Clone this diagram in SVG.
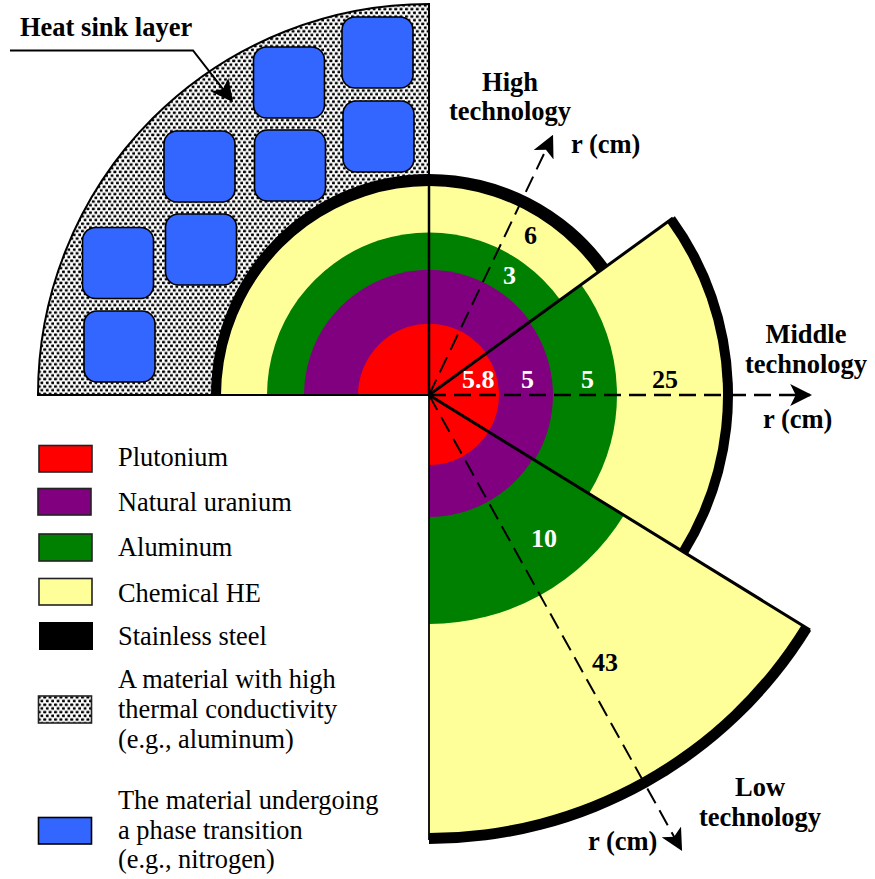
<svg xmlns="http://www.w3.org/2000/svg" width="875" height="879" viewBox="0 0 875 879">
<style>
.t{font-family:"Liberation Serif","Times New Roman",serif;font-size:26.4px;fill:#000}
.b{font-family:"Liberation Serif","Times New Roman",serif;font-size:26.5px;font-weight:bold;fill:#000}
.n{font-family:"Liberation Serif","Times New Roman",serif;font-size:26px;font-weight:bold;fill:#000}
.w{fill:#fff}
.m{text-anchor:middle}
.red{fill:#f00}.pur{fill:#800080}.grn{fill:#008000}.yel{fill:#ff9}.blk{fill:#000}
.cell{fill:#36f;stroke:#000;stroke-width:1.6}
.sw{stroke:#222;stroke-width:1.6}
.edge{stroke:#000;fill:none;stroke-width:3}
.dash{stroke:#000;fill:none;stroke-dasharray:17 8;marker-end:url(#ah)}
</style>
<defs>
<pattern id="dots" width="5.4" height="7.4" patternUnits="userSpaceOnUse">
<rect width="5.4" height="7.4" fill="#fff"/>
<rect x="0" y="0.5" width="3" height="2.5" rx="0.6" fill="#000"/>
<rect x="2.7" y="4.2" width="3" height="2.5" rx="0.6" fill="#000"/>
</pattern>
<marker id="ah" markerUnits="userSpaceOnUse" markerWidth="22" markerHeight="22" viewBox="0 0 20 20" refX="18" refY="10" orient="auto">
<path d="M20,10 L0,0 L5,10 L0,20 Z" fill="#000"/>
</marker>
</defs>
<rect width="875" height="879" fill="#fff"/>
<g id="heat-sink">
<path d="M38,395 A391,391 0 0 1 429,4 L429,395 Z" fill="url(#dots)" stroke="#000" stroke-width="2"/>
<rect class="cell" x="342" y="17" width="71" height="71" rx="13"/>
<rect class="cell" x="343" y="101" width="71" height="71" rx="13"/>
<rect class="cell" x="253.500" y="47" width="71" height="71" rx="13"/>
<rect class="cell" x="254.500" y="130" width="71" height="71" rx="13"/>
<rect class="cell" x="164" y="131" width="71" height="71" rx="13"/>
<rect class="cell" x="165.500" y="214" width="71" height="71" rx="13"/>
<rect class="cell" x="82.500" y="227.500" width="71" height="71" rx="13"/>
<rect class="cell" x="84" y="311" width="71" height="71" rx="13"/>
</g>
<g id="high-technology">
<path class="blk" d="M429,395 L211,395 A218,221 0 0 1 429,174 A221,221 0 0 1 608,265 Z"/>
<path class="yel" d="M429,395 L221,395 A208,210 0 0 1 597.300,272.700 Z"/>
<path class="grn" d="M429,395 L267,395 A162,163 0 0 1 560.100,299.700 Z"/>
<path class="pur" d="M429,395 L304,395 A125,125.500 0 0 1 530.100,321.500 Z"/>
<path class="red" d="M429,395 L358,395 A71,72 0 0 1 486.400,353.300 Z"/>
</g>
<g id="middle-technology">
<path class="blk" d="M429,395 L674.900,216.200 A304,304 0 0 1 687.700,554.600 Z"/>
<path class="yel" d="M429,395 L666.800,222.100 A294,294 0 0 1 679.200,549.400 Z"/>
<path class="grn" d="M429,395 L581.100,284.500 A188,188 0 0 1 589,493.700 Z"/>
<path class="pur" d="M429,395 L529.300,322.100 A124,124 0 0 1 534.500,460.100 Z"/>
<path class="red" d="M429,395 L485.600,353.800 A70,70 0 0 1 488.600,431.800 Z"/>
</g>
<g id="low-technology">
<path class="blk" d="M429,395 L811.100,630.700 A449,449 0 0 1 429,844 Z"/>
<path class="yel" d="M429,395 L801.700,625 A438,438 0 0 1 429,833 Z"/>
<path class="grn" d="M429,395 L623.900,515.200 A229,229 0 0 1 429,624 Z"/>
<path class="pur" d="M429,395 L532.800,459 A122,122 0 0 1 429,517 Z"/>
<path class="red" d="M429,395 L488.600,431.800 A70,70 0 0 1 429,465 Z"/>
</g>
<g id="connectors">
<path class="edge" style="stroke-width:2.500" d="M429,174 L429,395"/>
<path class="edge" style="stroke-width:1.800" d="M429,395 L429,840"/>
<path class="edge" style="stroke-width:2" d="M38,395 L429,395"/>
<path class="edge" d="M429,395 L673,218"/>
<path class="edge" d="M429,395 L810,630"/>
<path class="dash" style="stroke-width:2.500" d="M429,395 L810,395"/>
<path class="dash" style="stroke-width:2" d="M429,395 L552.100,136.800"/>
<path class="dash" style="stroke-width:2" d="M429,395 L681,849.200"/>
<path d="M10,50.500 L193,50.500 L231.800,100.400" fill="none" stroke="#000" stroke-width="2" marker-end="url(#ah)"/>
</g>
<g id="diagram-labels">
<text class="b" x="20" y="36">Heat sink layer</text>
<text class="b m" x="510" y="91">High</text>
<text class="b m" x="510" y="120">technology</text>
<text class="b" x="571" y="153">r (cm)</text>
<text class="b m" x="806" y="343">Middle</text>
<text class="b m" x="806" y="373">technology</text>
<text class="b" x="763" y="428">r (cm)</text>
<text class="b m" x="760" y="796">Low</text>
<text class="b m" x="760" y="826">technology</text>
<text class="b" x="588" y="850">r (cm)</text>
<text class="n" x="524" y="244">6</text>
<text class="n w" x="503" y="284">3</text>
<text class="n w" x="462" y="388">5.8</text>
<text class="n w" x="521" y="388">5</text>
<text class="n w" x="581" y="388">5</text>
<text class="n" x="652" y="388">25</text>
<text class="n w" x="531" y="547">10</text>
<text class="n" x="592" y="671">43</text>
</g>
<g id="legend-plutonium"><rect class="red sw" x="39" y="445.500" width="53" height="26.500"/><text class="t" x="118" y="466">Plutonium</text></g>
<g id="legend-uranium"><rect class="pur sw" x="38" y="488.500" width="53" height="26.500"/><text class="t" x="118" y="511">Natural uranium</text></g>
<g id="legend-aluminum"><rect class="grn sw" x="39" y="534" width="53" height="27"/><text class="t" x="118" y="556">Aluminum</text></g>
<g id="legend-he"><rect class="yel sw" x="39" y="578.500" width="53" height="26.500"/><text class="t" x="118" y="602">Chemical HE</text></g>
<g id="legend-steel"><rect class="blk" x="39" y="622" width="54" height="28"/><text class="t" x="118" y="645">Stainless steel</text></g>
<g id="legend-conductive"><rect class="sw" fill="url(#dots)" x="38.500" y="696" width="53" height="27"/><text class="t" x="118" y="688">A material with high</text><text class="t" x="118" y="718">thermal conductivity</text><text class="t" x="118" y="748">(e.g., aluminum)</text></g>
<g id="legend-phase"><rect class="cell" x="38.500" y="817.500" width="53" height="26.500"/><text class="t" x="118" y="809">The material undergoing</text><text class="t" x="118" y="839">a phase transition</text><text class="t" x="118" y="868">(e.g., nitrogen)</text></g>
</svg>
